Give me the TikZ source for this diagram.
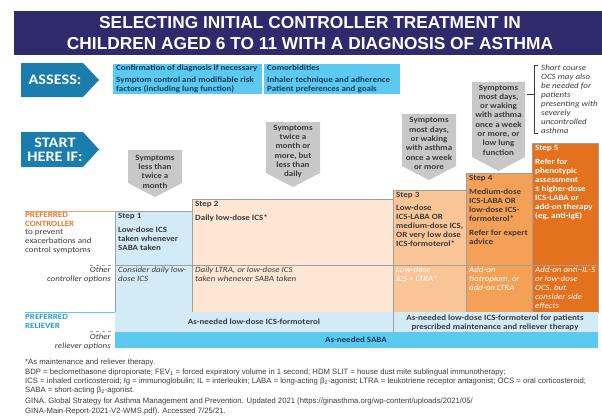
\documentclass[tikz,border=0pt]{standalone}
\usepackage{fontspec}
\setmainfont{Carlito}[FakeStretch=1.12]
\newfontfamily\arialfont{Liberation Sans}
\usetikzlibrary{positioning}

\definecolor{ginanavy}{HTML}{2E2A6B}
\definecolor{ginateal}{HTML}{1B7DAE}
\definecolor{ginacyan}{HTML}{5CC9F0}
\definecolor{ginagrey}{HTML}{C8C8C8}
\definecolor{ginatext}{HTML}{3C3C3C}
\definecolor{assesstext}{HTML}{173A5C}
\definecolor{gridgrey}{HTML}{A0A0A0}
\definecolor{stepone}{HTML}{D3EAF7}
\definecolor{steptwo}{HTML}{FDE6D3}
\definecolor{stepthree}{HTML}{F9C597}
\definecolor{stepfour}{HTML}{F4A056}
\definecolor{stepfive}{HTML}{E4711E}
\definecolor{ginaorange}{HTML}{E87A2C}
\definecolor{ginablue}{HTML}{2A9BD4}

\begin{document}
\begin{tikzpicture}
  [x=1pt,y=-1pt,every node/.style={inner sep=0pt}]
  \tikzstyle{cue}=[fill=ginagrey]
  \tikzstyle{cuetext}=[align=center,text=ginatext,font=\bfseries\fontsize{8}{9.3}\selectfont]
  \tikzstyle{stepcell}=[draw=gridgrey,line width=0.5pt]
  \tikzstyle{boldtext}=[anchor=north west,align=left,font=\bfseries\fontsize{8}{9}\selectfont]
  \tikzstyle{alttext}=[anchor=north west,align=left,font=\itshape\fontsize{8}{9}\selectfont]
  \tikzstyle{sideother}=[anchor=north east,align=right,text=ginatext,font=\itshape\fontsize{8}{9}\selectfont]
  \useasboundingbox (0,0) rectangle (602,416);
  \fill[white] (0,0) rectangle (602,416);

  % title band
  \fill[ginanavy] (14,11) rectangle (602,55);
  \node[align=center,text=white,font=\arialfont\bfseries\fontsize{17.3}{21}\selectfont] (title) at (310,33.5)
    {SELECTING INITIAL CONTROLLER TREATMENT IN\\CHILDREN AGED 6 TO 11 WITH A DIAGNOSIS OF ASTHMA};

  % assess / start
  \begin{scope}
    \fill[ginateal] (21,63) -- (83,63) -- (99,80) -- (83,97) -- (21,97) -- cycle;
    \node[text=white,font=\bfseries\fontsize{14.5}{16}\selectfont] (assess) at (55,80) {ASSESS:};
    \fill[ginacyan] (113,64) rectangle (262,94);
    \fill[ginacyan] (264,64) rectangle (400,94);
    \node[boldtext,text=assesstext] (check1) at (116,64.5)
      {Confirmation of diagnosis if necessary\\[3pt]Symptom control and modifiable risk\\factors (including lung function)};
    \node[boldtext,text=assesstext] (check2) at (267,64.5)
      {Comorbidities\\[3pt]Inhaler technique and adherence\\Patient preferences and goals};
    \fill[ginateal] (21,132) -- (83,132) -- (99,149.5) -- (83,167) -- (21,167) -- cycle;
    \node[align=center,text=white,font=\bfseries\fontsize{14.5}{14}\selectfont] (start) at (55,150) {START\\HERE IF:};
  \end{scope}

  % symptom cues
  \begin{scope}
    \fill[cue] (128,150) -- (182,150) -- (182,183) -- (155,197) -- (128,183) -- cycle;
    \node[cuetext] (cue1) at (155,171.5) {Symptoms\\less than\\twice a\\month};
    \fill[cue] (266,122) -- (320,122) -- (320,173) -- (293,187) -- (266,173) -- cycle;
    \node[cuetext] (cue2) at (293,151.5) {Symptoms\\twice a\\month or\\more, but\\less than\\daily};
    \fill[cue] (402,114) -- (456,114) -- (456,166) -- (429,180) -- (402,166) -- cycle;
    \node[cuetext] (cue3) at (429,143.5) {Symptoms\\most days,\\or waking\\with asthma\\once a week\\or more};
    \fill[cue] (472,82) -- (525,82) -- (525,157) -- (498.5,171) -- (472,157) -- cycle;
    \node[cuetext] (cue4) at (498.5,120) {Symptoms\\most days,\\or waking\\with asthma\\once a week\\or more, or\\low lung\\function};
    \draw[ginatext,line width=0.6pt] (538,65) -- (534,65) -- (534,133) -- (538,133);
    \draw[ginatext,line width=0.6pt] (527,94) -- (534,94);
    \node[alttext,text=ginatext] (ocsnote) at (541,64.5)
      {Short course\\OCS may also\\be needed for\\patients\\presenting with\\severely\\uncontrolled\\asthma};
  \end{scope}

  % steps
  \begin{scope}
    \filldraw[stepcell,fill=stepone] (115,211) rectangle (192,312);
    \filldraw[stepcell,fill=steptwo] (192,199) rectangle (393,312);
    \filldraw[stepcell,fill=stepthree] (393,190) rectangle (466,312);
    \filldraw[stepcell,fill=stepfour] (466,173) rectangle (532,312);
    \filldraw[stepcell,fill=stepfive] (532,143) rectangle (598,312);
    \draw[gridgrey] (115,265) -- (598,265);

    \node[boldtext,text=ginatext] (s1) at (118,213) {Step 1};
    \node[boldtext,text=ginatext] (s1main) at (118,226.5) {Low-dose ICS\\taken whenever\\SABA taken};
    \node[alttext,text=ginatext] (s1alt) at (118,267) {Consider daily low-\\dose ICS};

    \node[boldtext,text=ginatext] (s2) at (195,201) {Step 2};
    \node[boldtext,text=ginatext] (s2main) at (195,214.5) {Daily low-dose ICS*};
    \node[alttext,text=ginatext] (s2alt) at (195,267) {Daily LTRA, or low-dose ICS\\taken whenever SABA taken};

    \node[boldtext,text=ginatext] (s3) at (396,192) {Step 3};
    \node[boldtext,text=ginatext] (s3main) at (396,204.5)
      {Low-dose\\ICS-LABA OR\\medium-dose ICS,\\OR very low dose\\ICS-formoterol*};
    \node[alttext,text=white] (s3alt) at (396,267) {Low-dose\\ICS + LTRA*};

    \node[boldtext,text=ginatext] (s4) at (469,175.5) {Step 4};
    \node[boldtext,text=ginatext] (s4main) at (469,188.5)
      {Medium-dose\\ICS-LABA OR\\low-dose ICS-\\formoterol*\\[5pt]Refer for expert\\advice};
    \node[alttext,text=white] (s4alt) at (469,267) {Add-on\\tiotropium, or\\add-on LTRA};

    \node[boldtext,text=white] (s5) at (535,145.5) {Step 5};
    \node[boldtext,text=white] (s5main) at (535,158.5)
      {Refer for\\phenotypic\\assessment\\± higher-dose\\ICS-LABA or\\add-on therapy\\(eg, anti-IgE)};
    \node[alttext,text=white] (s5alt) at (535,267) {Add-on anti–IL-5\\or low-dose\\OCS, but\\consider side\\effects};
  \end{scope}

  % row labels
  \begin{scope}
    \draw[ginaorange!70,line width=0.8pt] (25,211) -- (115,211);
    \node[boldtext,text=ginaorange] (ctrlhead) at (25,212.5) {PREFERRED\\CONTROLLER};
    \node[anchor=north west,align=left,text=ginatext,font=\fontsize{8}{9}\selectfont] (ctrlaim) at (25,229.5)
      {to prevent\\exacerbations and\\control symptoms};
    \draw[gridgrey,dashed] (90,265) -- (113,265);
    \node[sideother] (ctrlother) at (111,267) {Other\\controller options};

    \draw[ginacyan,line width=0.8pt] (25,312) -- (115,312);
    \node[boldtext,text=ginablue] (relhead) at (25,314.5) {PREFERRED\\RELIEVER};
    \draw[gridgrey,dashed] (90,331) -- (113,331);
    \node[sideother] (relother) at (111,333.5) {Other\\reliever options};
  \end{scope}

  % reliever rows
  \begin{scope}
    \fill[stepone] (115,312) rectangle (598,332);
    \draw[gridgrey] (393,312) -- (393,332);
    \fill[ginacyan] (115,332) rectangle (598,348);
    \node[text=ginatext,font=\bfseries\fontsize{8}{9}\selectfont] (rel1) at (254,322) {As-needed low-dose ICS-formoterol};
    \node[align=center,text=ginatext,font=\bfseries\fontsize{8}{9}\selectfont] (rel2) at (495,322.5)
      {As-needed low-dose ICS-formoterol for patients\\prescribed maintenance and reliever therapy};
    \node[text=assesstext,font=\bfseries\fontsize{8}{9}\selectfont] (saba) at (356,340) {As-needed SABA};
  \end{scope}

  % footnotes
  \node[anchor=north west,align=left,text=ginatext,font=\arialfont\fontsize{7.7}{9.3}\selectfont] (notes) at (25,359)
    {*As maintenance and reliever therapy.\\
     BDP = beclomethasone dipropionate; FEV\textsubscript{1} = forced expiratory volume in 1 second; HDM SLIT = house dust mite sublingual immunotherapy;\\
     ICS = inhaled corticosteroid; Ig = immunoglobulin; IL = interleukin; LABA = long-acting β\textsubscript{2}-agonist; LTRA = leukotriene receptor antagonist; OCS = oral corticosteroid;\\
     SABA = short-acting β\textsubscript{2}-agonist.\\[2pt]
     GINA. Global Strategy for Asthma Management and Prevention. Updated 2021 (https://ginasthma.org/wp-content/uploads/2021/05/\\
     GINA-Main-Report-2021-V2-WMS.pdf). Accessed 7/25/21.};
\end{tikzpicture}
\end{document}
